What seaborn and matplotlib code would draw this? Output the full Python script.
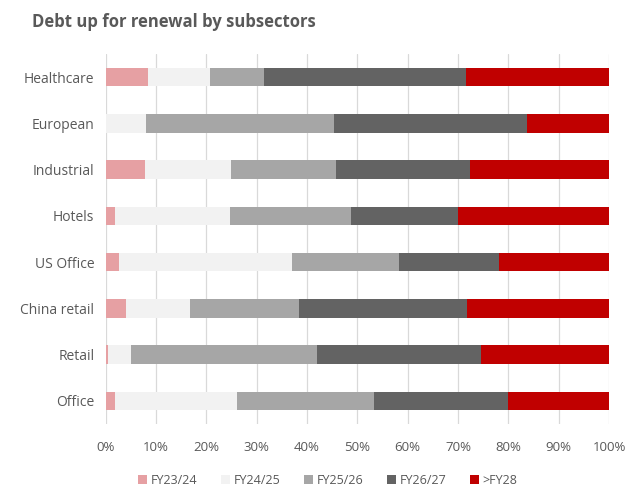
import matplotlib
matplotlib.use("Agg")
import matplotlib.pyplot as plt
import numpy as np
import pandas as pd
import seaborn as sns
from matplotlib.patches import Patch

sns.set_theme(style="white")
plt.rcParams["font.family"] = ["Open Sans", "DejaVu Sans"]

categories = ["Healthcare", "European", "Industrial", "Hotels",
              "US Office", "China retail", "Retail", "Office"]
series = ["FY23/24", "FY24/25", "FY25/26", "FY26/27", ">FY28"]
fy2324 = [8.4, 0.0, 7.8, 1.9, 2.6, 4.0, 0.4, 1.8]
fy2425 = [12.4, 8.1, 17.2, 22.9, 34.4, 12.8, 4.6, 24.4]
fy2526 = [10.7, 37.2, 20.7, 23.9, 21.3, 21.6, 37.0, 27.1]
fy2627 = [40.0, 38.4, 26.7, 21.4, 19.8, 33.4, 32.5, 26.7]
fy28 = [28.5, 16.3, 27.6, 29.9, 21.9, 28.2, 25.5, 20.0]
colors = ["#E6A0A3", "#F2F2F2", "#A6A6A6", "#636363", "#C00000"]

df = pd.DataFrame({"category": categories, "FY23/24": fy2324, "FY24/25": fy2425,
                   "FY25/26": fy2526, "FY26/27": fy2627, ">FY28": fy28})
cum = df[series].cumsum(axis=1)

fig = plt.figure(figsize=(6.27, 4.86), dpi=100)
ax = fig.add_axes([105.5 / 627, 1 - 424 / 486, 503.5 / 627, 370 / 486])

# stacked bars: draw running totals from the outermost segment inwards
for s, c in reversed(list(zip(series, colors))):
    sns.barplot(data=cum.assign(category=categories), x=s, y="category",
                color=c, orient="h", width=0.4, ax=ax, saturation=1,
                edgecolor="none", order=categories)

ax.set_xlim(0, 100)
ax.set_ylim(7.5, -0.5)
ax.set_xticks(np.arange(0, 101, 10))
ax.set_xticklabels([f"{v}%" for v in range(0, 101, 10)])
ax.xaxis.grid(True, color="#D9D9D9", linewidth=0.9)
ax.set_axisbelow(True)
for sp in ax.spines.values():
    sp.set_visible(False)
ax.set_xlabel("")
ax.set_ylabel("")
ax.tick_params(axis="x", labelsize=9.5, length=0, pad=12)
ax.tick_params(axis="y", labelsize=10, length=0, pad=8)
for lab in ax.get_xticklabels() + ax.get_yticklabels():
    lab.set_color("#595959")

fig.text(32 / 627, 1 - 22 / 486, "Debt up for renewal by subsectors",
         fontsize=12, fontweight="bold", color="#595959", va="center", ha="left")

handles = [Patch(facecolor=c, edgecolor="none", label=s) for s, c in zip(series, colors)]
fig.legend(handles=handles, loc="center", bbox_to_anchor=(328 / 627, 1 - 480 / 486),
           ncol=5, frameon=False, fontsize=9, handlelength=0.7, handleheight=0.7,
           handletextpad=0.3, columnspacing=1.9, labelcolor="#595959")

fig.savefig("out.png", dpi=100)
